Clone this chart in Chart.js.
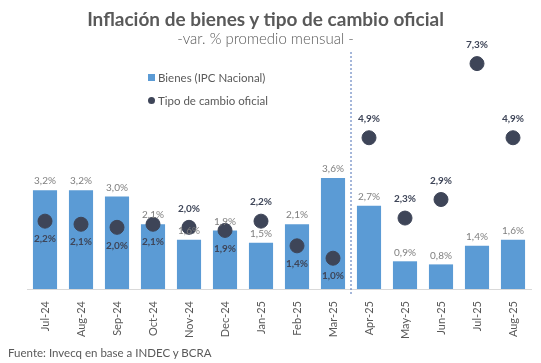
<!DOCTYPE html>
<html lang="es">
<head>
    <meta charset="UTF-8">
    <title>Inflación de bienes y tipo de cambio oficial</title>
    <script src="https://cdn.jsdelivr.net/npm/chart.js"></script>
    <style>
        body { margin: 0; background: #fff; font-family: "Lato", sans-serif; }
        .wrap { position: relative; width: 541px; height: 363px; }
        canvas { position: absolute; left: 0; top: 0; }
        .title { position: absolute; left: 0; width: 531px; top: 7px; text-align: center; font-weight: 700; font-size: 19px; color: #595959; }
        .subtitle { position: absolute; left: 0; width: 531px; top: 29px; text-align: center; font-size: 15px; font-weight: 300; color: #595959; }
        .legend { position: absolute; left: 148px; font-size: 11.5px; color: #595959; display: flex; align-items: center; }
        .sw { display: inline-block; width: 7px; height: 7px; background: #5b9bd5; margin-right: 3px; }
        .dot { display: inline-block; width: 7px; height: 7px; border-radius: 50%; background: #3e4558; margin-right: 3px; }
        .footer { position: absolute; left: 8px; top: 346px; font-size: 11.5px; color: #595959; }
    </style>
</head>
<body>
<div class="wrap">
    <canvas id="chart" width="541" height="363"></canvas>
    <div class="title">Inflación de bienes y tipo de cambio oficial</div>
    <div class="subtitle">-var. % promedio mensual -</div>
    <div class="legend" style="top:71px"><span class="sw"></span>Bienes (IPC Nacional)</div>
    <div class="legend" style="top:94px"><span class="dot"></span>Tipo de cambio oficial</div>
    <div class="footer">Fuente: Invecq en base a INDEC y BCRA</div>
</div>
<script>
    const meses = ['Jul-24', 'Aug-24', 'Sep-24', 'Oct-24', 'Nov-24', 'Dec-24', 'Jan-25', 'Feb-25', 'Mar-25', 'Apr-25', 'May-25', 'Jun-25', 'Jul-25', 'Aug-25'];
    const bienes = [3.2, 3.2, 3.0, 2.1, 1.6, 1.9, 1.5, 2.1, 3.6, 2.7, 0.9, 0.8, 1.4, 1.6];
    const tipoCambio = [2.2, 2.1, 2.0, 2.1, 2.0, 1.9, 2.2, 1.4, 1.0, 4.9, 2.3, 2.9, 7.3, 4.9];
    const corte = 9; // primer mes despues de la linea punteada

    const fmt = v => v.toFixed(1).replace('.', ',') + '%';

    const etiquetas = {
        id: 'etiquetas',
        afterDatasetsDraw(chart) {
            const ctx = chart.ctx;
            const barras = chart.getDatasetMeta(0).data;
            const puntos = chart.getDatasetMeta(1).data;
            const area = chart.chartArea;

            // linea punteada
            const xl = (barras[corte - 1].x + barras[corte].x) / 2;
            ctx.save();
            ctx.strokeStyle = '#4a6fb5';
            ctx.lineWidth = 1;
            ctx.setLineDash([2, 2]);
            ctx.beginPath();
            ctx.moveTo(xl, area.top + 10);
            ctx.lineTo(xl, area.bottom + 6);
            ctx.stroke();
            ctx.setLineDash([]);

            ctx.textAlign = 'center';
            ctx.textBaseline = 'middle';
            ctx.font = '10px Lato';
            ctx.fillStyle = '#7f7f7f';
            barras.forEach((b, i) => {
                ctx.fillText(fmt(bienes[i]), b.x, b.y - 9);
            });
            ctx.font = 'bold 10px Lato';
            ctx.fillStyle = '#3e4558';
            puntos.forEach((p, i) => {
                const abajo = tipoCambio[i] <= bienes[i];
                ctx.fillText(fmt(tipoCambio[i]), p.x, abajo ? p.y + 18 : p.y - 19);
            });
            ctx.restore();
        }
    };

    new Chart(document.getElementById('chart').getContext('2d'), {
        data: {
            labels: meses,
            datasets: [
                { type: 'bar', label: 'Bienes (IPC Nacional)', data: bienes, backgroundColor: '#5b9bd5', barPercentage: 1, categoryPercentage: 0.67, order: 2 },
                { type: 'line', label: 'Tipo de cambio oficial', data: tipoCambio, showLine: false, pointRadius: 7, pointBackgroundColor: '#3e4558', pointBorderColor: '#3e4558', order: 1 }
            ]
        },
        options: {
            responsive: false,
            animation: false,
            layout: { padding: { left: 27, right: 10, top: 42, bottom: 20 } },
            scales: {
                x: {
                    grid: { display: false },
                    border: { color: '#d9d9d9' },
                    ticks: { minRotation: 90, maxRotation: 90, color: '#595959', font: { family: 'Lato', size: 11 }, padding: 4 }
                },
                y: { display: false, min: 0, max: 8 }
            },
            plugins: {
                legend: { display: false },
                tooltip: { enabled: false }
            }
        },
        plugins: [etiquetas]
    });
</script>
</body>
</html>
